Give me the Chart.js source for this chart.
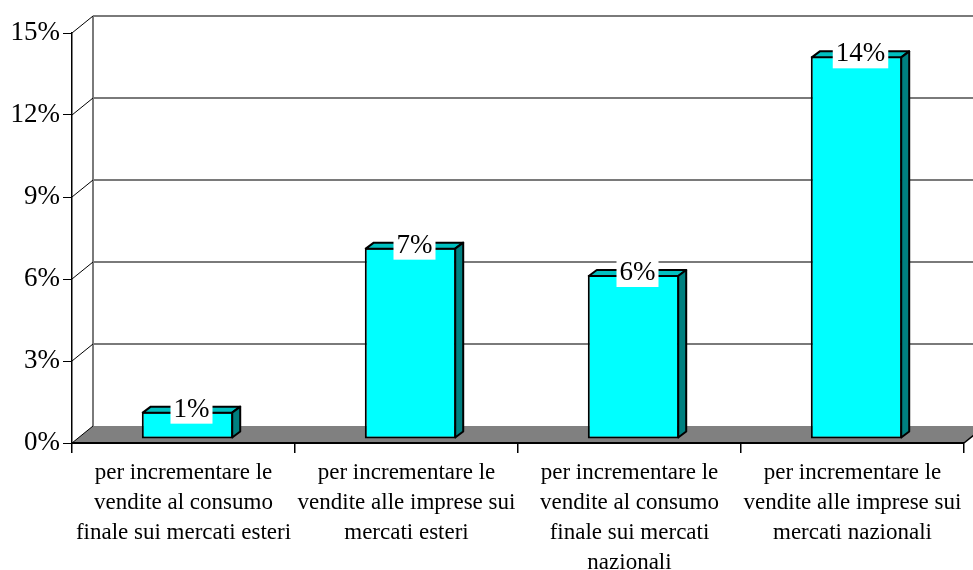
<!DOCTYPE html>
<html><head><meta charset="utf-8">
<script src="https://cdn.jsdelivr.net/npm/chart.js@4"></script>
<style>html,body{margin:0;padding:0;background:#fff;}#wrap{width:973px;height:570px;position:relative;}</style>
</head><body><div id="wrap"><canvas id="c" width="973" height="570"></canvas></div>
<script>
const categories = [
  ['per incrementare le', 'vendite al consumo', 'finale sui mercati esteri'],
  ['per incrementare le', 'vendite alle imprese sui', 'mercati esteri'],
  ['per incrementare le', 'vendite al consumo', 'finale sui mercati', 'nazionali'],
  ['per incrementare le', 'vendite alle imprese sui', 'mercati nazionali']
];
const values = [1, 7, 6, 14];
const yTicks = [0, 3, 6, 9, 12, 15];

const SERIF = '"Liberation Serif", "Times New Roman", serif';
const DX = 21, DY = -17;   // back wall offset
const BX = 4, BY = -4;     // bar plane offset
const DDX = 8, DDY = -6;   // bar depth

function line(ctx, x1, y1, x2, y2) { ctx.beginPath(); ctx.moveTo(x1, y1); ctx.lineTo(x2, y2); ctx.stroke(); }

const threeD = {
  id: 'threeD',
  beforeDraw(chart) {
    const { ctx, chartArea: a, scales: { y } } = chart;
    ctx.save();
    // floor
    ctx.fillStyle = '#808080';
    ctx.beginPath();
    ctx.moveTo(a.left, a.bottom); ctx.lineTo(a.right, a.bottom);
    ctx.lineTo(a.right + DX, a.bottom + DY); ctx.lineTo(a.left + DX, a.bottom + DY);
    ctx.closePath(); ctx.fill();
    ctx.strokeStyle = '#000'; ctx.lineWidth = 1.5;
    line(ctx, a.right, a.bottom, a.right + DX, a.bottom + DY);
    // back wall grid
    ctx.strokeStyle = '#7a7a7a'; ctx.lineWidth = 2;
    yTicks.forEach(v => {
      if (v === 0) return;
      const py = y.getPixelForValue(v) + DY;
      line(ctx, a.left + DX, py, a.right + DX + 20, py);
    });
    line(ctx, a.left + DX, y.getPixelForValue(yTicks[yTicks.length - 1]) + DY, a.left + DX, a.bottom + DY);
    // diagonals from front axis
    ctx.strokeStyle = '#000'; ctx.lineWidth = 1;
    yTicks.forEach(v => {
      const py = y.getPixelForValue(v);
      line(ctx, a.left, py, a.left + DX, py + DY);
    });
    ctx.restore();
  },
  beforeDatasetsDraw(chart) { chart.ctx.save(); chart.ctx.translate(BX, BY); },
  afterDatasetsDraw(chart) {
    const ctx = chart.ctx;
    const meta = chart.getDatasetMeta(0);
    ctx.lineWidth = 2; ctx.strokeStyle = '#000'; ctx.lineJoin = 'round';
    meta.data.forEach(bar => {
      const p = bar.getProps(['x', 'y', 'base', 'width'], true);
      const L = p.x - p.width / 2 + 1, R = p.x + p.width / 2 - 1, T = p.y + 1, B = p.base - 1;
      ctx.fillStyle = '#00C0C0';
      ctx.beginPath(); ctx.moveTo(L, T); ctx.lineTo(L + DDX, T + DDY); ctx.lineTo(R + DDX, T + DDY); ctx.lineTo(R, T); ctx.closePath(); ctx.fill(); ctx.stroke();
      ctx.fillStyle = '#008080';
      ctx.beginPath(); ctx.moveTo(R, T); ctx.lineTo(R + DDX, T + DDY); ctx.lineTo(R + DDX, B + DDY); ctx.lineTo(R, B); ctx.closePath(); ctx.fill(); ctx.stroke();
    });
    // labels
    ctx.font = '27px ' + SERIF;
    ctx.textAlign = 'center'; ctx.textBaseline = 'middle';
    meta.data.forEach((bar, i) => {
      const p = bar.getProps(['x', 'y'], true);
      const txt = values[i] + '%';
      const w = ctx.measureText(txt).width;
      const cx = p.x + DDX / 2, cy = p.y + DDY / 2;
      ctx.fillStyle = '#fff';
      ctx.fillRect(cx - w / 2 - 3, cy - 14, w + 6, 29);
      ctx.fillStyle = '#000';
      ctx.fillText(txt, cx, cy + 1);
    });
    ctx.restore();
  }
};

new Chart(document.getElementById('c'), {
  type: 'bar',
  data: {
    labels: categories,
    datasets: [{
      data: values,
      backgroundColor: '#00FFFF',
      borderColor: '#000',
      borderWidth: 2,
      borderSkipped: false,
      categoryPercentage: 1,
      barPercentage: 0.41
    }]
  },
  options: {
    responsive: false,
    devicePixelRatio: 1,
    animation: false,
    layout: { padding: { top: 33, right: 9, left: 0, bottom: 0 } },
    plugins: { legend: { display: false }, tooltip: { enabled: false } },
    scales: {
      x: {
        afterFit(s) { s.height = 127; },
        grid: { drawOnChartArea: false, drawTicks: true, tickLength: 10, color: '#000', lineWidth: 1.5 },
        border: { color: '#000', width: 2 },
        ticks: { color: '#000', font: { family: SERIF, size: 23, lineHeight: 1.3 }, maxRotation: 0, autoSkip: false, padding: 5 }
      },
      y: {
        min: 0, max: 15,
        afterFit(s) { s.width = 72; },
        afterBuildTicks(s) { s.ticks = yTicks.map(v => ({ value: v })); },
        grid: { drawOnChartArea: false, drawTicks: true, tickLength: 9, color: '#000', lineWidth: 1 },
        border: { color: '#000', width: 1.5 },
        ticks: { color: '#000', font: { family: SERIF, size: 27 }, padding: 3, callback: v => v + '%' }
      }
    }
  },
  plugins: [threeD]
});
</script></body></html>
